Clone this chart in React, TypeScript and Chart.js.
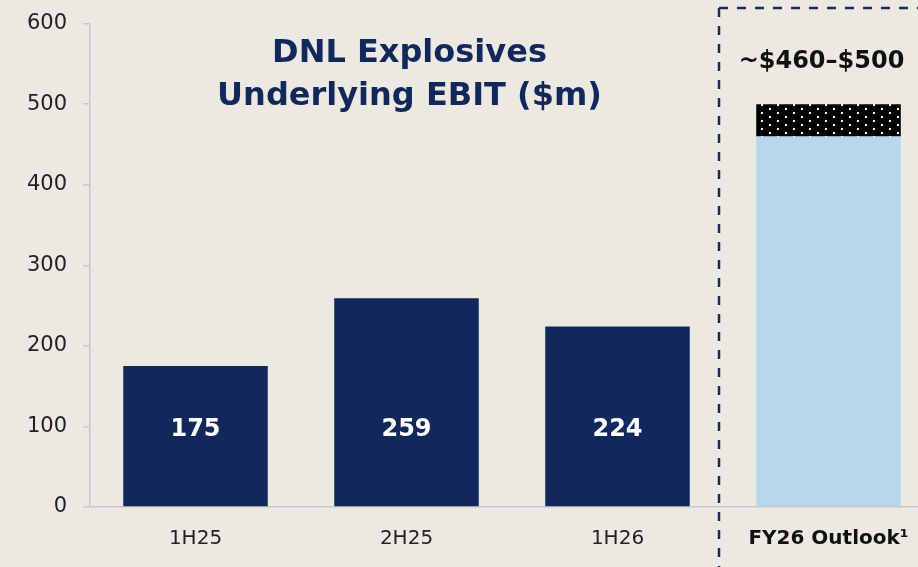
import React, { useEffect, useRef } from "react";
import { Chart, registerables } from "chart.js";

Chart.register(...registerables);

const categories = ["1H25", "2H25", "1H26", "FY26 Outlook¹"];
const baseValues = [175, 259, 224, 460];
const rangeValues = [null, null, null, 40];
const valueLabels = ["175", "259", "224", ""];
const rangeLabel = "~$460–$500";
const titleLines = ["DNL Explosives", "Underlying EBIT ($m)"];
const yTicks = [0, 100, 200, 300, 400, 500, 600];

const NAVY = "#13285A";
const LIGHT = "#B8D7EA";
const BG = "#ECE9E3";
const FONT = "'DejaVu Sans', sans-serif";
const SHIFT = 5;

function makePattern(): CanvasPattern | string {
  const c = document.createElement("canvas");
  c.width = 16;
  c.height = 8;
  const g = c.getContext("2d");
  if (!g) return "#000";
  g.fillStyle = "#000";
  g.fillRect(0, 0, 16, 8);
  g.fillStyle = "#fff";
  g.fillRect(1, 1, 2, 2);
  g.fillRect(9, 5, 2, 2);
  return g.createPattern(c, "repeat") || "#000";
}

const overlayPlugin = {
  id: "overlay",
  afterDatasetsDraw(chart: any) {
    const ctx = chart.ctx;
    const xs = chart.scales.x;
    const ys = chart.scales.y;
    ctx.save();
    // dashed box
    const dx = xs.getPixelForValue(2.5) - 4;
    ctx.strokeStyle = "#1B2B57";
    ctx.lineWidth = 2.5;
    ctx.setLineDash([9, 9]);
    ctx.beginPath();
    ctx.moveTo(dx, 8 + SHIFT);
    ctx.lineTo(dx, chart.height);
    ctx.moveTo(dx, 8 + SHIFT);
    ctx.lineTo(chart.width, 8 + SHIFT);
    ctx.stroke();
    ctx.setLineDash([]);

    // title
    ctx.fillStyle = NAVY;
    ctx.font = `bold 32px ${FONT}`;
    ctx.textAlign = "center";
    ctx.textBaseline = "middle";
    const tx = xs.getPixelForValue(1) + 3;
    ctx.fillText(titleLines[0], tx, 54 + SHIFT);
    ctx.fillText(titleLines[1], tx, 97 + SHIFT);

    // value labels
    ctx.fillStyle = "#ffffff";
    ctx.font = `bold 24px ${FONT}`;
    valueLabels.forEach((t, i) => {
      if (!t) return;
      ctx.fillText(t, xs.getPixelForValue(i), ys.getPixelForValue(96));
    });

    // range label
    ctx.fillStyle = "#111111";
    ctx.font = `bold 24px ${FONT}`;
    ctx.fillText(rangeLabel, xs.getPixelForValue(3) - 7, ys.getPixelForValue(500) - 42);
    ctx.restore();
  },
};

export default function App() {
  const ref = useRef<HTMLCanvasElement>(null);
  useEffect(() => {
    if (!ref.current) return;
    const pattern = makePattern();
    const chart = new Chart(ref.current, {
      type: "bar",
      data: {
        labels: categories,
        datasets: [
          {
            data: baseValues,
            backgroundColor: [NAVY, NAVY, NAVY, LIGHT],
            barPercentage: 0.685,
            categoryPercentage: 1,
          },
          {
            data: rangeValues as any,
            backgroundColor: pattern as any,
            barPercentage: 0.685,
            categoryPercentage: 1,
          },
        ],
      },
      options: {
        responsive: false,
        animation: false,
        layout: { padding: { top: 17, left: 0, right: 0, bottom: 0 } },
        plugins: { legend: { display: false }, tooltip: { enabled: false }, title: { display: false } },
        scales: {
          x: {
            stacked: true,
            grid: { display: false, drawTicks: false },
            border: { display: true, color: "#C9C9C9", width: 1.5 },
            ticks: {
              padding: 20,
              color: (c: any) => (c.index === 3 ? "#111111" : "#222222"),
              font: (c: any) => ({ family: FONT, size: 20, weight: c.index === 3 ? "bold" : "normal" }),
            } as any,
            afterFit(scale: any) {
              scale.height = 60;
            },
          },
          y: {
            stacked: true,
            min: 0,
            max: 600,
            afterBuildTicks(scale: any) {
              scale.ticks = yTicks.map((v) => ({ value: v }));
            },
            grid: { drawOnChartArea: false, drawTicks: true, tickLength: 7, color: "#C9C9C9", lineWidth: 1.5 },
            border: { display: true, color: "#C9C9C9", width: 1.5 },
            ticks: { padding: 16, color: "#222222", font: { family: FONT, size: 21 } },
            afterFit(scale: any) {
              scale.width = 90;
            },
          },
        },
      },
      plugins: [overlayPlugin],
    });
    return () => chart.destroy();
  }, []);
  return (
    <div style={{ position: "fixed", left: 0, top: 0, width: 918, height: 567, overflow: "hidden", background: BG }}>
      <canvas
        ref={ref}
        width={934}
        height={567 + SHIFT}
        style={{ position: "absolute", left: 0, top: -SHIFT, width: 934, height: 567 + SHIFT, display: "block" }}
      />
    </div>
  );
}
